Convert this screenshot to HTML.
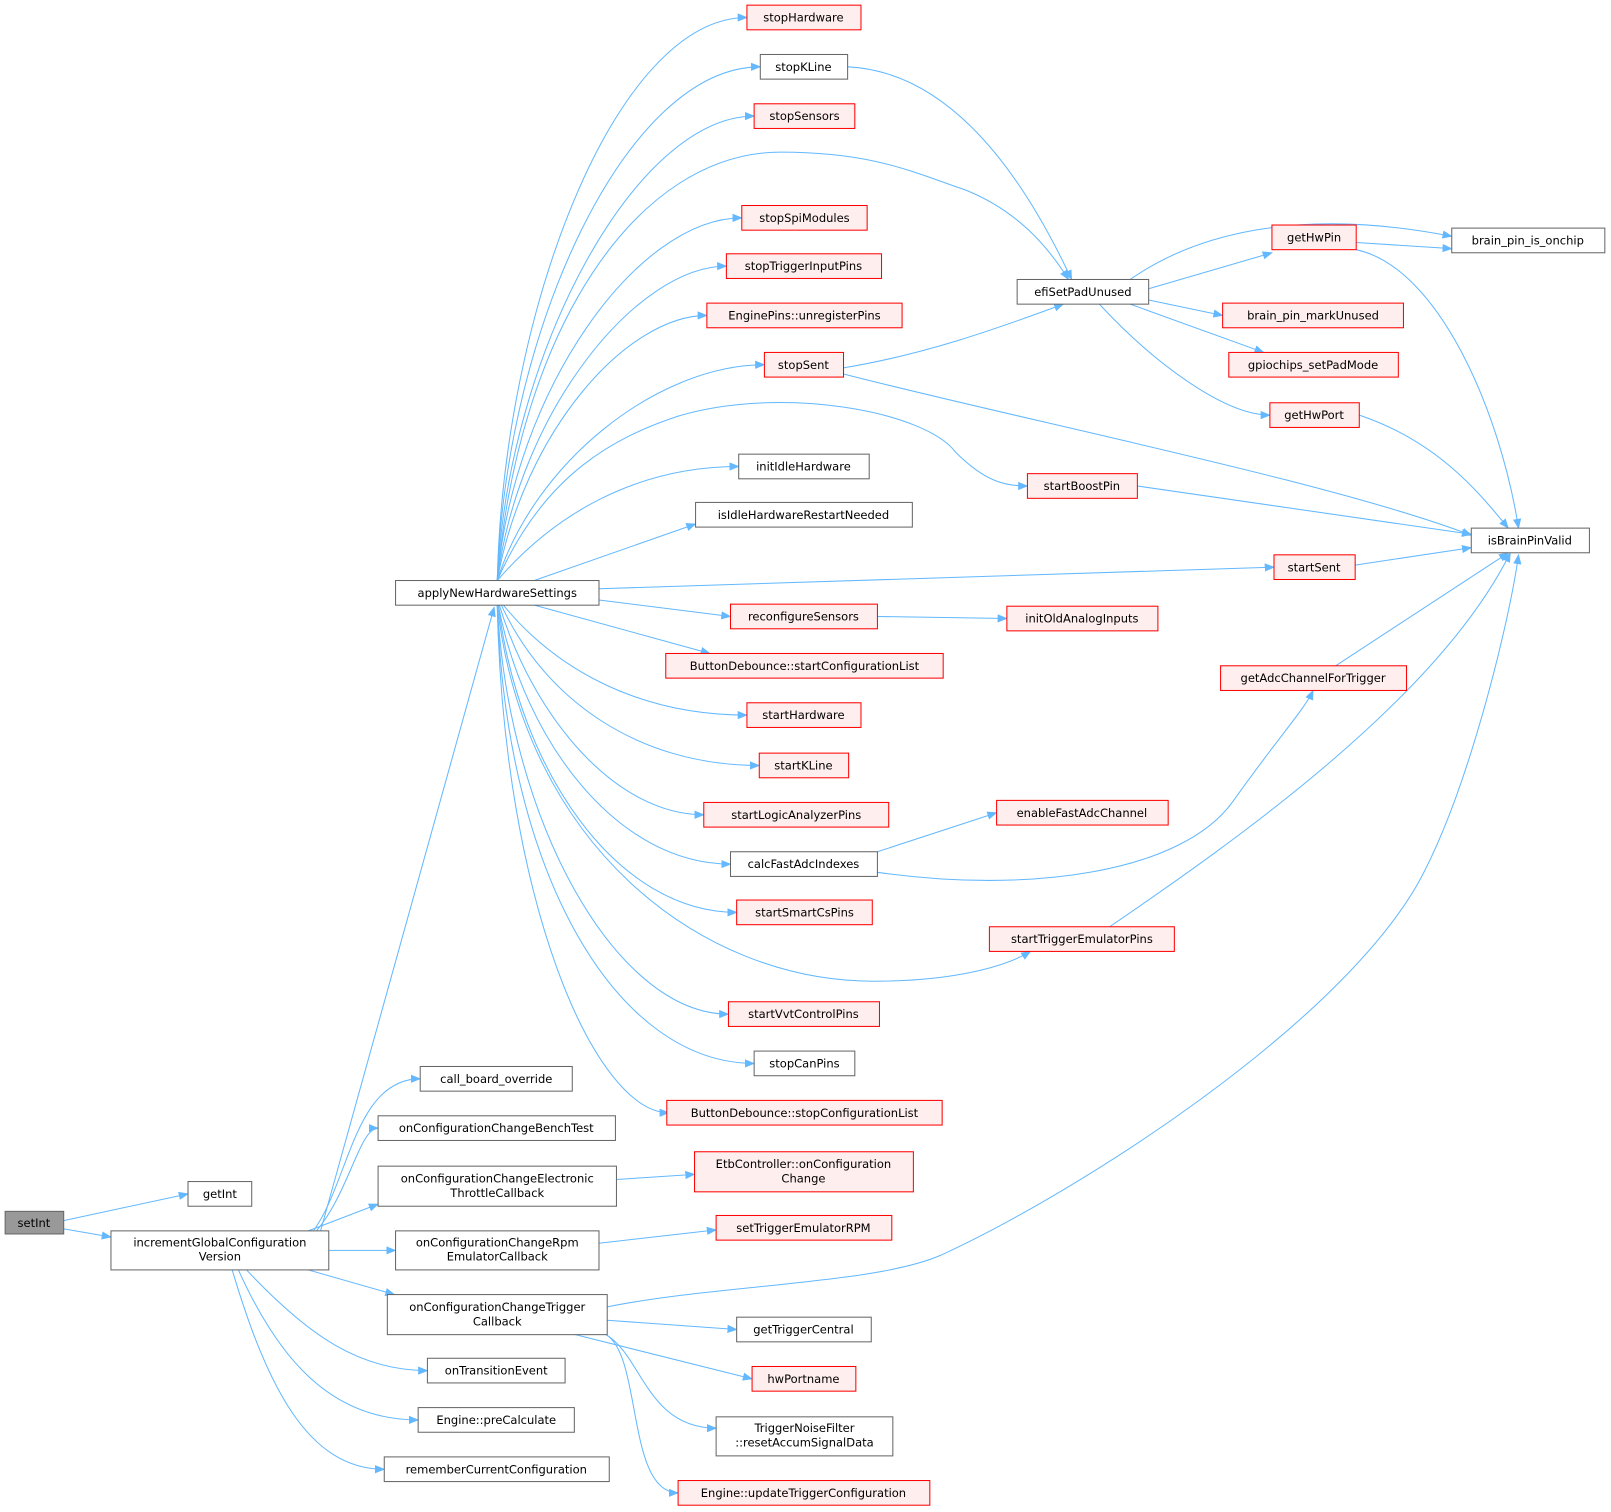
<!DOCTYPE html>
<html><head><meta charset="utf-8"><style>
html,body{margin:0;padding:0;background:#fff;}
svg{display:block}
text{font-family:"DejaVu Sans","Liberation Sans",sans-serif;font-size:11.2px;fill:#000;text-anchor:middle}
.g{fill:#fff;stroke:#666;stroke-width:1}
.r{fill:#ffeeee;stroke:#f00;stroke-width:1}
.e{fill:none;stroke:#63b8ff;stroke-width:1;marker-end:url(#a)}
</style></head><body>
<svg width="1611" height="1512" viewBox="0 0 1568 1471.6" xmlns="http://www.w3.org/2000/svg">
<defs><marker id="a" markerWidth="10" markerHeight="8" refX="9" refY="4" orient="auto" markerUnits="userSpaceOnUse"><path d="M0,0 L10,4 L0,8 z" fill="#63b8ff"/></marker></defs>
<g>
<path class="e" d="M62,1188 L183,1162"/>
<path class="e" d="M62,1196 L108,1204"/>
<path class="e" d="M312,1198 L481,591"/>
<path class="e" d="M305,1198 C340,1150 345,1050 409,1050"/>
<path class="e" d="M308,1198 C340,1160 350,1098 368,1098"/>
<path class="e" d="M300,1198 L368,1172"/>
<path class="e" d="M320,1217 L385,1217"/>
<path class="e" d="M300,1236 L384,1260"/>
<path class="e" d="M240,1236 C300,1300 350,1334 416,1334"/>
<path class="e" d="M232,1236 C270,1320 320,1382 407,1382"/>
<path class="e" d="M226,1236 C260,1350 300,1430 374,1430"/>
<path class="e" d="M600,1148 L676,1143"/>
<path class="e" d="M583,1210 L697,1197"/>
<path class="e" d="M591,1285 L717,1294"/>
<path class="e" d="M560,1299 L732,1342"/>
<path class="e" d="M590,1299 C625,1320 630,1390 697,1390"/>
<path class="e" d="M590,1299 C625,1320 610,1453 660,1453"/>
<path class="e" d="M591,1272 C700,1250 850,1250 915,1222 C1050,1160 1300,1000 1380,860 C1430,770 1470,600 1478,540"/>
<path class="e" d="M484,565 C490,300 600,17 727,17"/>
<path class="e" d="M484,565 C492,320 610,65 740,65"/>
<path class="e" d="M484,565 C495,340 620,113 734,113"/>
<path class="e" d="M484,565 C505,320 620,148 760,148 C850,148 890,168 940,185 C990,205 1020,240 1040,272"/>
<path class="e" d="M484,565 C500,380 620,212 722,212"/>
<path class="e" d="M484,565 C505,400 620,259 707,259"/>
<path class="e" d="M484,565 C510,420 610,307 688,307"/>
<path class="e" d="M484,565 C520,450 640,355 744,355"/>
<path class="e" d="M484,565 C530,460 600,425 660,405 C760,375 900,400 930,440 C960,470 980,473 1000,473"/>
<path class="e" d="M484,565 C540,500 620,454 719,454"/>
<path class="e" d="M520,565 L677,510"/>
<path class="e" d="M583,573 L1240,552"/>
<path class="e" d="M583,584 L711,600"/>
<path class="e" d="M520,589 L691,636"/>
<path class="e" d="M490,589 C540,650 620,696 727,696"/>
<path class="e" d="M488,589 C530,680 620,745 739,745"/>
<path class="e" d="M486,589 C520,700 600,793 685,793"/>
<path class="e" d="M485,589 C510,720 600,841 711,841"/>
<path class="e" d="M485,589 C505,750 600,888 717,888"/>
<path class="e" d="M484,589 C510,820 680,955 850,955 C930,955 980,940 1003,926"/>
<path class="e" d="M484,589 C495,800 600,987 709,987"/>
<path class="e" d="M484,589 C492,850 600,1035 734,1035"/>
<path class="e" d="M484,589 C490,880 580,1083 651,1083"/>
<path class="e" d="M825,65 C930,70 1000,180 1043,272"/>
<path class="e" d="M821,358 C900,345 970,320 1035,296"/>
<path class="e" d="M821,364 C1000,410 1300,470 1432,521"/>
<path class="e" d="M1100,272 C1160,230 1260,200 1413,230"/>
<path class="e" d="M1118,281 L1238,246"/>
<path class="e" d="M1118,292 L1190,307"/>
<path class="e" d="M1100,296 L1230,343"/>
<path class="e" d="M1070,296 C1120,350 1190,404 1236,404"/>
<path class="e" d="M1320,236 L1413,242"/>
<path class="e" d="M1320,243 C1400,260 1460,400 1478,514"/>
<path class="e" d="M1323,404 C1400,430 1440,480 1468,514"/>
<path class="e" d="M1107,473 L1432,520"/>
<path class="e" d="M1319,550 L1432,533"/>
<path class="e" d="M854,600 L980,602"/>
<path class="e" d="M1300,648 L1468,538"/>
<path class="e" d="M854,829 L970,791"/>
<path class="e" d="M854,849 C1000,870 1150,850 1200,780 C1250,710 1270,690 1278,672"/>
<path class="e" d="M1080,902 C1200,820 1400,680 1470,538"/>
</g>
<g>
<rect x="5" y="1179" width="57" height="22" fill="#999" stroke="#666"/><text x="33" y="1194">setInt</text>
<rect class="g" x="183" y="1150" width="62" height="24"/><text x="214" y="1166">getInt</text>
<rect class="g" x="108" y="1198" width="212" height="38"/><text x="214" y="1213">incrementGlobalConfiguration</text><text x="214" y="1227">Version</text>
<rect class="g" x="385" y="565" width="198" height="24"/><text x="484" y="581">applyNewHardwareSettings</text>
<rect class="g" x="409" y="1038" width="148" height="24"/><text x="483" y="1054">call_board_override</text>
<rect class="g" x="368" y="1086" width="231" height="24"/><text x="483" y="1102">onConfigurationChangeBenchTest</text>
<rect class="g" x="368" y="1135" width="232" height="39"/><text x="484" y="1151">onConfigurationChangeElectronic</text><text x="484" y="1165">ThrottleCallback</text>
<rect class="g" x="385" y="1198" width="198" height="38"/><text x="484" y="1213">onConfigurationChangeRpm</text><text x="484" y="1227">EmulatorCallback</text>
<rect class="g" x="377" y="1260" width="214" height="39"/><text x="484" y="1276">onConfigurationChangeTrigger</text><text x="484" y="1290">Callback</text>
<rect class="g" x="416" y="1322" width="134" height="24"/><text x="483" y="1338">onTransitionEvent</text>
<rect class="g" x="407" y="1370" width="152" height="24"/><text x="483" y="1386">Engine::preCalculate</text>
<rect class="g" x="374" y="1418" width="219" height="24"/><text x="483" y="1434">rememberCurrentConfiguration</text>
<rect class="r" x="727" y="5" width="111" height="24"/><text x="782" y="21">stopHardware</text>
<rect class="g" x="740" y="53" width="85" height="24"/><text x="782" y="69">stopKLine</text>
<rect class="r" x="734" y="101" width="98" height="24"/><text x="783" y="117">stopSensors</text>
<rect class="r" x="722" y="200" width="122" height="24"/><text x="783" y="216">stopSpiModules</text>
<rect class="r" x="707" y="247" width="151" height="24"/><text x="782" y="263">stopTriggerInputPins</text>
<rect class="r" x="688" y="295" width="190" height="24"/><text x="783" y="311">EnginePins::unregisterPins</text>
<rect class="r" x="744" y="343" width="77" height="24"/><text x="782" y="359">stopSent</text>
<rect class="g" x="719" y="442" width="127" height="24"/><text x="782" y="458">initIdleHardware</text>
<rect class="g" x="677" y="489" width="211" height="24"/><text x="782" y="505">isIdleHardwareRestartNeeded</text>
<rect class="r" x="711" y="588" width="143" height="24"/><text x="782" y="604">reconfigureSensors</text>
<rect class="r" x="648" y="636" width="270" height="24"/><text x="783" y="652">ButtonDebounce::startConfigurationList</text>
<rect class="r" x="727" y="684" width="111" height="24"/><text x="782" y="700">startHardware</text>
<rect class="r" x="739" y="733" width="87" height="24"/><text x="782" y="749">startKLine</text>
<rect class="r" x="685" y="781" width="180" height="24"/><text x="775" y="797">startLogicAnalyzerPins</text>
<rect class="g" x="711" y="829" width="143" height="24"/><text x="782" y="845">calcFastAdcIndexes</text>
<rect class="r" x="717" y="876" width="132" height="24"/><text x="783" y="892">startSmartCsPins</text>
<rect class="r" x="709" y="975" width="147" height="24"/><text x="782" y="991">startVvtControlPins</text>
<rect class="g" x="734" y="1023" width="98" height="24"/><text x="783" y="1039">stopCanPins</text>
<rect class="r" x="649" y="1071" width="268" height="24"/><text x="783" y="1087">ButtonDebounce::stopConfigurationList</text>
<rect class="r" x="676" y="1121" width="213" height="39"/><text x="782" y="1137">EtbController::onConfiguration</text><text x="782" y="1151">Change</text>
<rect class="r" x="697" y="1183" width="171" height="24"/><text x="782" y="1199">setTriggerEmulatorRPM</text>
<rect class="g" x="717" y="1282" width="131" height="24"/><text x="782" y="1298">getTriggerCentral</text>
<rect class="r" x="732" y="1330" width="101" height="24"/><text x="782" y="1346">hwPortname</text>
<rect class="g" x="697" y="1379" width="172" height="38"/><text x="783" y="1394">TriggerNoiseFilter</text><text x="783" y="1408">::resetAccumSignalData</text>
<rect class="r" x="660" y="1441" width="245" height="24"/><text x="782" y="1457">Engine::updateTriggerConfiguration</text>
<rect class="g" x="990" y="272" width="128" height="24"/><text x="1054" y="288">efiSetPadUnused</text>
<rect class="r" x="1000" y="461" width="107" height="24"/><text x="1053" y="477">startBoostPin</text>
<rect class="r" x="980" y="590" width="147" height="24"/><text x="1053" y="606">initOldAnalogInputs</text>
<rect class="r" x="970" y="779" width="167" height="24"/><text x="1053" y="795">enableFastAdcChannel</text>
<rect class="r" x="963" y="902" width="180" height="24"/><text x="1053" y="918">startTriggerEmulatorPins</text>
<rect class="r" x="1240" y="540" width="79" height="24"/><text x="1279" y="556">startSent</text>
<rect class="r" x="1188" y="648" width="181" height="24"/><text x="1278" y="664">getAdcChannelForTrigger</text>
<rect class="r" x="1238" y="219" width="82" height="24"/><text x="1279" y="235">getHwPin</text>
<rect class="r" x="1190" y="295" width="176" height="24"/><text x="1278" y="311">brain_pin_markUnused</text>
<rect class="r" x="1196" y="343" width="165" height="24"/><text x="1278" y="359">gpiochips_setPadMode</text>
<rect class="r" x="1236" y="392" width="87" height="24"/><text x="1279" y="408">getHwPort</text>
<rect class="g" x="1413" y="222" width="149" height="24"/><text x="1487" y="238">brain_pin_is_onchip</text>
<rect class="g" x="1432" y="514" width="115" height="24"/><text x="1489" y="530">isBrainPinValid</text>
</g>
</svg>
</body></html>
